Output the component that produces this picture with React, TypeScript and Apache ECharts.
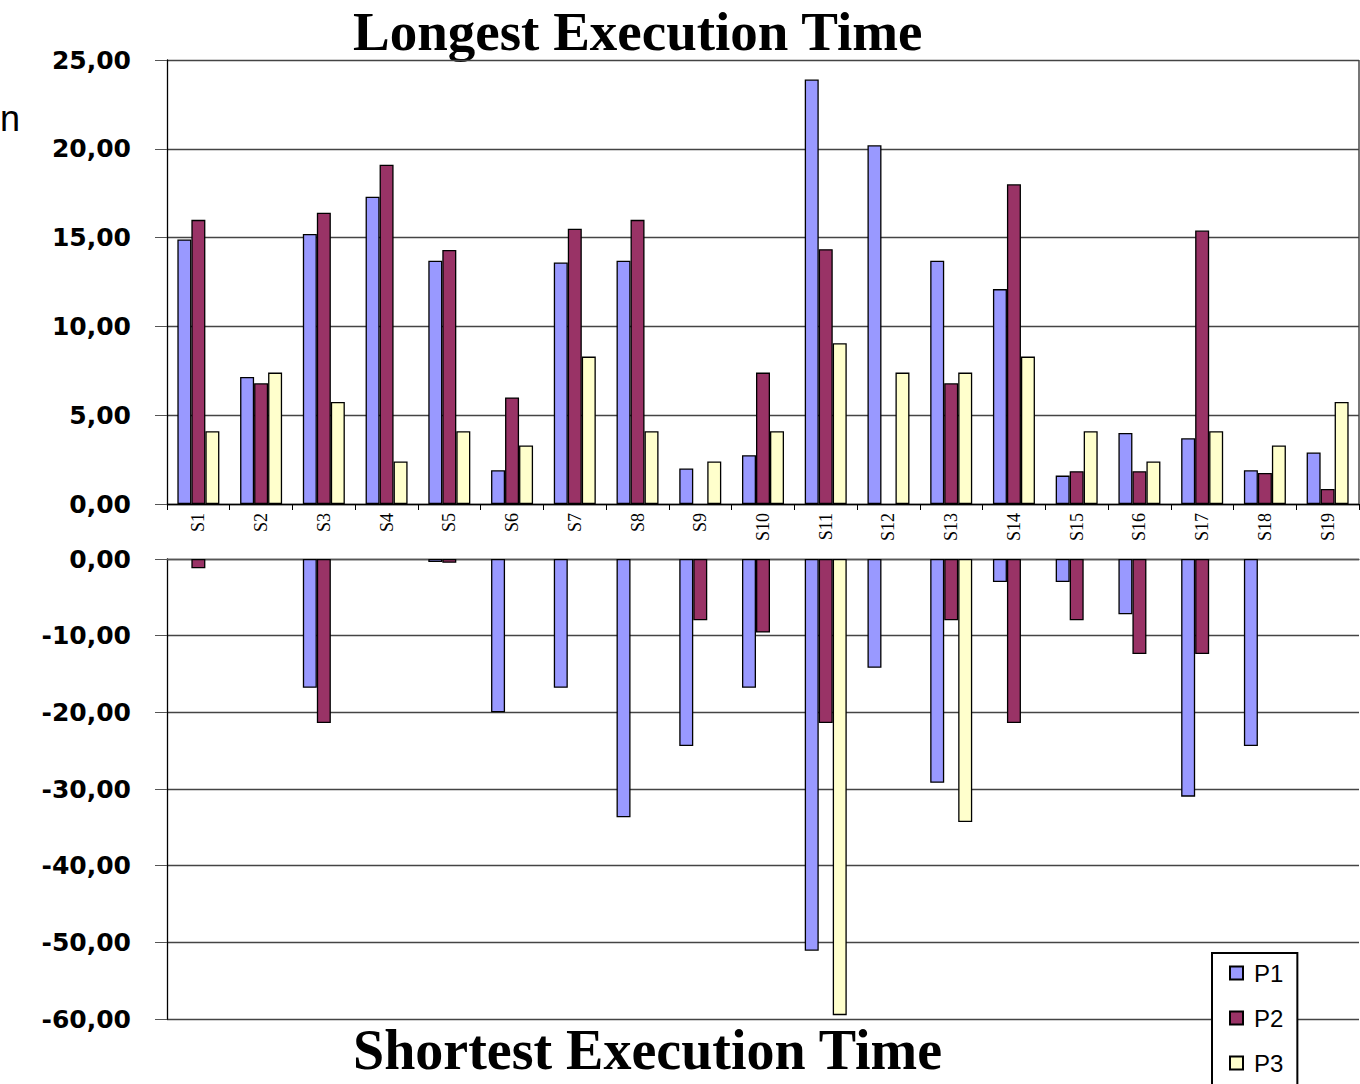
import React, { useEffect, useRef } from "react";
import * as echarts from "echarts";

const categories = ["S1", "S2", "S3", "S4", "S5", "S6", "S7", "S8", "S9", "S10", "S11", "S12", "S13", "S14", "S15", "S16", "S17", "S18", "S19"];

// Longest execution time per scenario
const longP1 = [14.9, 7.15, 15.2, 17.3, 13.7, 1.9, 13.6, 13.7, 2.0, 2.75, 23.9, 20.2, 13.7, 12.1, 1.6, 4.0, 3.7, 1.9, 2.9];
const longP2 = [16.0, 6.8, 16.4, 19.1, 14.3, 6.0, 15.5, 16.0, null, 7.4, 14.35, null, 6.8, 18.0, 1.85, 1.85, 15.4, 1.75, 0.85];
const longP3 = [4.1, 7.4, 5.75, 2.4, 4.1, 3.3, 8.3, 4.1, 2.4, 4.1, 9.05, 7.4, 7.4, 8.3, 4.1, 2.4, 4.1, 3.3, 5.75];

// Shortest execution time per scenario (drawn downwards)
const shortP1 = [null, null, -16.8, null, -0.4, -20.0, -16.8, -33.7, -24.4, -16.8, -51.1, -14.2, -29.2, -3.0, -3.0, -7.2, -31.0, -24.4, null];
const shortP2 = [-1.2, null, -21.4, null, -0.5, null, null, null, -8.0, -9.6, -21.4, null, -8.0, -21.4, -8.0, -12.4, -12.4, null, null];
const shortP3 = [null, null, null, null, null, null, null, null, null, null, -59.5, null, -34.3, null, null, null, null, null, null];

const seriesNames = ["P1", "P2", "P3"];
const seriesColors = ["#9999FF", "#993366", "#FFFFCC"];

const fmt = (v: number) => v.toFixed(2).replace(".", ",");

export default function App() {
  const ref = useRef<HTMLDivElement>(null);

  useEffect(() => {
    if (!ref.current) return;
    const chart = echarts.init(ref.current, null, { renderer: "svg" });

    const yLabel = {
      fontFamily: "DejaVu Sans",
      fontWeight: "bold" as const,
      fontSize: 25,
      color: "#000",
      margin: 36,
      formatter: fmt,
    };

    const barStyle = (i: number) => ({
      color: seriesColors[i],
      borderColor: "#000",
      borderWidth: 1.3,
    });

    const longData = [longP1, longP2, longP3];
    const shortData = [shortP1, shortP2, shortP3];

    const series: any[] = [];
    seriesNames.forEach((name, i) => {
      series.push({
        name,
        type: "bar",
        xAxisIndex: 0,
        yAxisIndex: 0,
        data: longData[i],
        barWidth: 14,
        barGap: "0%",
        itemStyle: barStyle(i),
      });
    });
    seriesNames.forEach((name, i) => {
      series.push({
        name,
        type: "bar",
        xAxisIndex: 1,
        yAxisIndex: 1,
        data: shortData[i],
        barWidth: 14,
        barGap: "0%",
        itemStyle: barStyle(i),
      });
    });

    chart.setOption({
      animation: false,
      backgroundColor: "#fff",
      grid: [
        { left: 167, top: 60, width: 1192, height: 444, show: false },
        { left: 167, top: 559, width: 1192, height: 460, show: false },
      ],
      xAxis: [
        {
          type: "category",
          gridIndex: 0,
          data: categories,
          position: "bottom",
          axisLine: { lineStyle: { color: "#000", width: 1.3 } },
          axisTick: { show: true, length: 6, lineStyle: { color: "#000" } },
          axisLabel: {
            rotate: 90,
            fontFamily: "Liberation Serif",
            fontSize: 18,
            color: "#000",
            margin: 9,
          },
        },
        {
          type: "category",
          gridIndex: 1,
          data: categories,
          position: "top",
          axisLine: { lineStyle: { color: "#555", width: 1.3 } },
          axisTick: { show: false },
          axisLabel: { show: false },
        },
      ],
      yAxis: [
        {
          type: "value",
          gridIndex: 0,
          min: 0,
          max: 25,
          interval: 5,
          axisLine: { show: true, lineStyle: { color: "#000", width: 1.3 } },
          axisTick: { show: true, inside: false, length: 12, lineStyle: { color: "#555" } },
          axisLabel: yLabel,
          splitLine: { show: true, lineStyle: { color: "#444", width: 1.3 } },
        },
        {
          type: "value",
          gridIndex: 1,
          min: -60,
          max: 0,
          interval: 10,
          axisLine: { show: true, lineStyle: { color: "#000", width: 1.3 } },
          axisTick: { show: true, inside: false, length: 12, lineStyle: { color: "#555" } },
          axisLabel: yLabel,
          splitLine: { show: true, lineStyle: { color: "#444", width: 1.3 } },
        },
      ],
      legend: {
        data: seriesNames,
        orient: "vertical",
        left: 1212,
        top: 953,
        icon: "rect",
        itemWidth: 13,
        itemHeight: 13,
        itemGap: 21,
        padding: [8, 14, 40, 17],
        borderColor: "#000",
        borderWidth: 2,
        backgroundColor: "#fff",
        textStyle: {
          fontFamily: "Liberation Sans",
          fontSize: 24,
          color: "#000",
          padding: [0, 0, 0, 6],
        },
      },
      graphic: [
        {
          type: "line",
          shape: { x1: 1359, y1: 60, x2: 1359, y2: 504 },
          style: { stroke: "#777", lineWidth: 2 },
        },
        {
          type: "text",
          x: 353,
          y: 4,
          style: {
            text: "Longest Execution Time",
            font: "bold 55px 'Liberation Serif'",
            fill: "#000",
          },
        },
        {
          type: "text",
          x: 353,
          y: 1022,
          style: {
            text: "Shortest Execution Time",
            font: "bold 56px 'Liberation Serif'",
            fill: "#000",
          },
        },
        {
          type: "text",
          x: 0,
          y: 100,
          style: {
            text: "n",
            font: "36px 'Liberation Sans'",
            fill: "#000",
          },
        },
      ],
      series,
    });

    return () => chart.dispose();
  }, []);

  // The chart area runs past the bottom of the window so the legend box is cut by the page edge
  return (
    <div
      ref={ref}
      style={{ position: "fixed", left: 0, top: 0, width: 1360, height: 1130 }}
    />
  );
}
